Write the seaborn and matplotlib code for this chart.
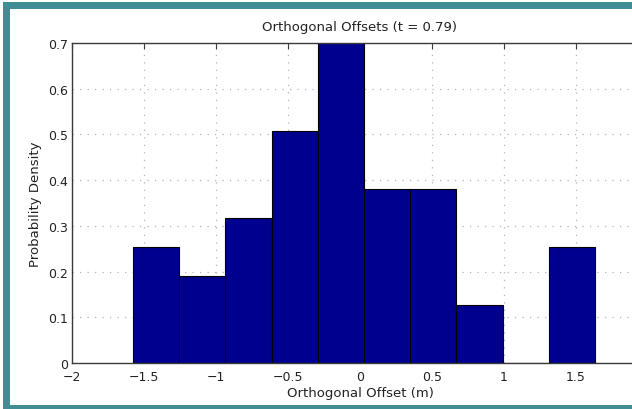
import numpy as np
import pandas as pd
import seaborn as sns
import matplotlib.pyplot as plt
from matplotlib.patches import Rectangle

# Histogram bins (m) and probability density per bin
bin_edges = [-1.577, -1.256, -0.935, -0.614, -0.293, 0.028, 0.349, 0.670, 0.991, 1.312, 1.633]
densities = [0.254, 0.190, 0.317, 0.508, 0.700, 0.381, 0.381, 0.127, 0.0, 0.254]

x_ticks = [-2, -1.5, -1, -0.5, 0, 0.5, 1, 1.5]
x_tick_labels = ["\u22122", "\u22121.5", "\u22121", "\u22120.5", "0", "0.5", "1", "1.5"]
y_ticks = [0, 0.1, 0.2, 0.3, 0.4, 0.5, 0.6, 0.7]
y_tick_labels = ["0", "0.1", "0.2", "0.3", "0.4", "0.5", "0.6", "0.7"]

title = "Orthogonal Offsets (t = 0.79)"
x_label = "Orthogonal Offset (m)"
y_label = "Probability Density"

centers = [(a + b) / 2 for a, b in zip(bin_edges[:-1], bin_edges[1:])]
df = pd.DataFrame({"offset": centers, "density": densities})

sns.set_theme(style="white")
plt.rcParams["font.family"] = ["DejaVu Sans"]

W, H = 632, 410
fig = plt.figure(figsize=(W / 100, H / 100), dpi=100)
fig.patch.set_facecolor("white")

# axes box in pixels: left 72, right 648 (runs past the frame), top 44, bottom 364
ax = fig.add_axes([72 / W, (H - 364) / H, (648 - 72) / W, (364 - 44) / H])

sns.histplot(data=df, x="offset", weights="density", bins=bin_edges, stat="count",
             color="#00008F", alpha=1.0, edgecolor="black", linewidth=0.8, ax=ax)

ax.set_xlim(-2, 2)
ax.set_ylim(0, 0.7)
ax.set_xticks(x_ticks)
ax.set_xticklabels(x_tick_labels)
ax.set_yticks(y_ticks)
ax.set_yticklabels(y_tick_labels)

ax.set_axisbelow(True)
ax.grid(True, linestyle=(0, (1, 5)), color="#b4b4b4", linewidth=0.9)

for side, sp in ax.spines.items():
    sp.set_visible(True)
    sp.set_color("#3a3a3a")
    sp.set_linewidth(1.0)

ax.tick_params(axis="both", direction="in", length=4, width=0.8, colors="#3a3a3a",
               labelcolor="#222222", labelsize=9, top=True, right=True)
ax.tick_params(axis="x", pad=5)
ax.tick_params(axis="y", pad=3)

ax.set_title(title, fontsize=9.5, color="#222222", pad=9)
ax.set_xlabel(x_label, fontsize=9.5, color="#222222", labelpad=2)
ax.set_ylabel(y_label, fontsize=9.5, color="#222222", labelpad=4)

# teal frame around the figure
teal = "#3E8E94"
fig.patches.append(Rectangle((3 / W, 0), 7 / W, (H - 3) / H, transform=fig.transFigure,
                             facecolor=teal, edgecolor="none", zorder=10))
fig.patches.append(Rectangle((3 / W, (H - 10) / H), (W - 3) / W, 7 / H, transform=fig.transFigure,
                             facecolor=teal, edgecolor="none", zorder=10))
fig.patches.append(Rectangle((3 / W, 0), (W - 3) / W, 4 / H, transform=fig.transFigure,
                             facecolor=teal, edgecolor="none", zorder=10))

fig.savefig("out.png", dpi=100)
